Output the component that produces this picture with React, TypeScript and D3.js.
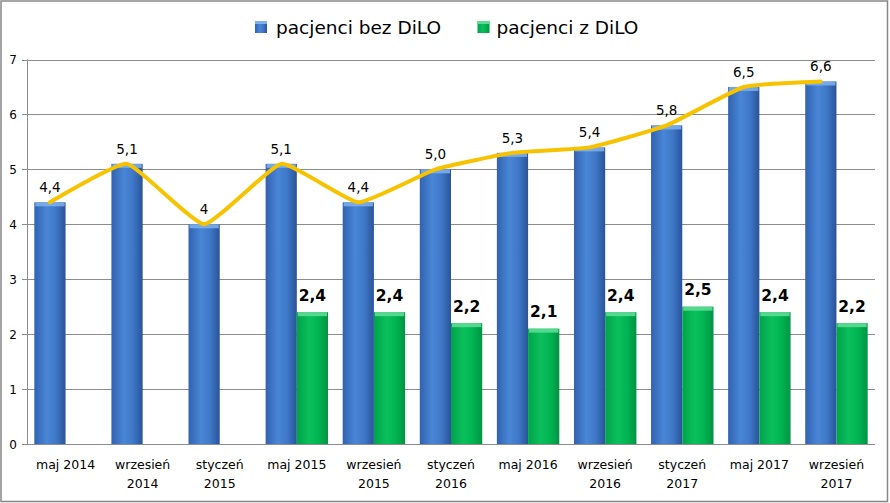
import React from "react";
import * as d3 from "d3";

const categories = [
  ["maj 2014"],
  ["wrzesień", "2014"],
  ["styczeń", "2015"],
  ["maj 2015"],
  ["wrzesień", "2015"],
  ["styczeń", "2016"],
  ["maj 2016"],
  ["wrzesień", "2016"],
  ["styczeń", "2017"],
  ["maj 2017"],
  ["wrzesień", "2017"],
];
const bezDiLO = [4.4, 5.1, 4.0, 5.1, 4.4, 5.0, 5.3, 5.4, 5.8, 6.5, 6.6];
const bezDiLOLabels = ["4,4", "5,1", "4", "5,1", "4,4", "5,0", "5,3", "5,4", "5,8", "6,5", "6,6"];
const zDiLO: (number | null)[] = [null, null, null, 2.4, 2.4, 2.2, 2.1, 2.4, 2.5, 2.4, 2.2];
const zDiLOLabels = ["", "", "", "2,4", "2,4", "2,2", "2,1", "2,4", "2,5", "2,4", "2,2"];
const yTicks = [0, 1, 2, 3, 4, 5, 6, 7];
const seriesNames = ["pacjenci bez DiLO", "pacjenci z DiLO"];

const W = 890;
const H = 503;
const FONT = "'DejaVu Sans', Verdana, sans-serif";

export default function App() {
  const keys = categories.map((c) => c.join(" "));
  const x0 = d3.scaleBand<string>().domain(keys).range([27, 875]).paddingInner(0.19).paddingOuter(0.095);
  const x1 = d3.scaleBand<string>().domain(["a", "b"]).range([0, x0.bandwidth()]);
  const y = d3.scaleLinear().domain([0, 7]).range([444, 59.5]);
  const bw = x1.bandwidth();

  const linePts: [number, number][] = bezDiLO.map((v, i) => [
    (x0(keys[i]) as number) + (x1("a") as number) + bw / 2,
    y(v),
  ]);
  const line = d3.line().curve(d3.curveCardinal.tension(0.6))(linePts) || "";

  return (
    <div style={{ position: "fixed", left: 0, top: 0 }}>
      <svg width={W} height={H} style={{ display: "block", background: "#fff" }} fontFamily={FONT}>
        <defs>
          <linearGradient id="gBlue" x1="0" x2="1" y1="0" y2="0">
            <stop offset="0%" stopColor="#3162B0" />
            <stop offset="40%" stopColor="#4A86D6" />
            <stop offset="70%" stopColor="#3E77C6" />
            <stop offset="100%" stopColor="#29539A" />
          </linearGradient>
          <linearGradient id="gGreen" x1="0" x2="1" y1="0" y2="0">
            <stop offset="0%" stopColor="#00A24A" />
            <stop offset="40%" stopColor="#0BC05C" />
            <stop offset="70%" stopColor="#00B452" />
            <stop offset="100%" stopColor="#009443" />
          </linearGradient>
        </defs>
        <rect x={1} y={1} width={886.5} height={500.5} fill="#fff" stroke="#868686" strokeWidth={1.5} />

        {yTicks.map((t) => (
          <g key={t}>
            {t > 0 && (
              <line x1={27} x2={875} y1={Math.round(y(t)) + 0.5} y2={Math.round(y(t)) + 0.5} stroke="#8C8C8C" strokeWidth={1} />
            )}
            <line x1={22} x2={27} y1={Math.round(y(t)) + 0.5} y2={Math.round(y(t)) + 0.5} stroke="#8C8C8C" />
            <text x={13} y={y(t) + 4.5} fontSize={12} textAnchor="middle" fill="#000">
              {t}
            </text>
          </g>
        ))}

        {keys.map((k, i) => {
          const gx = x0(k) as number;
          const bx = gx + (x1("a") as number);
          const gxb = gx + (x1("b") as number);
          const v = bezDiLO[i];
          const g = zDiLO[i];
          return (
            <g key={k}>
              <rect x={bx} y={y(v)} width={bw} height={y(0) - y(v)} fill="url(#gBlue)" />
              <rect x={bx + 1} y={y(v)} width={bw - 2} height={4} fill="#7FB1EC" opacity={0.85} />
              {g != null && (
                <>
                  <rect x={gxb} y={y(g)} width={bw} height={y(0) - y(g)} fill="url(#gGreen)" />
                  <rect x={gxb + 1} y={y(g)} width={bw - 2} height={4} fill="#5EDB95" opacity={0.9} />
                </>
              )}
            </g>
          );
        })}

        <line x1={27.5} x2={27.5} y1={y(7)} y2={y(0)} stroke="#8C8C8C" />
        <line x1={27} x2={875} y1={Math.round(y(0)) + 0.5} y2={Math.round(y(0)) + 0.5} stroke="#8C8C8C" />

        <path d={line} fill="none" stroke="#F7C300" strokeWidth={4} strokeLinejoin="round" strokeLinecap="round" />

        {keys.map((k, i) => {
          const gx = x0(k) as number;
          const bcx = gx + (x1("a") as number) + bw / 2;
          const gcx = gx + (x1("b") as number) + bw / 2;
          const g = zDiLO[i];
          return (
            <g key={"l" + k}>
              <text x={bcx} y={y(bezDiLO[i]) - 10} fontSize={13.5} textAnchor="middle" fill="#000">
                {bezDiLOLabels[i]}
              </text>
              {g != null && (
                <text x={gcx} y={y(g) - 11.5} fontSize={15.5} fontWeight="bold" textAnchor="middle" fill="#000">
                  {zDiLOLabels[i]}
                </text>
              )}
              {categories[i].map((ln, j) => (
                <text key={j} x={gx + x0.bandwidth() / 2} y={469 + j * 19} fontSize={12.5} textAnchor="middle" fill="#000">
                  {ln}
                </text>
              ))}
            </g>
          );
        })}

        <rect x={255} y={21} width={12} height={12} fill="url(#gBlue)" />
        <rect x={255} y={21} width={12} height={3} fill="#7FB1EC" />
        <text x={276} y={34} fontSize={18.5} fill="#000">{seriesNames[0]}</text>
        <rect x={477.5} y={21} width={12} height={12} fill="url(#gGreen)" />
        <rect x={477.5} y={21} width={12} height={3} fill="#5EDB95" />
        <text x={496.5} y={34} fontSize={18.5} fill="#000">{seriesNames[1]}</text>
      </svg>
    </div>
  );
}
